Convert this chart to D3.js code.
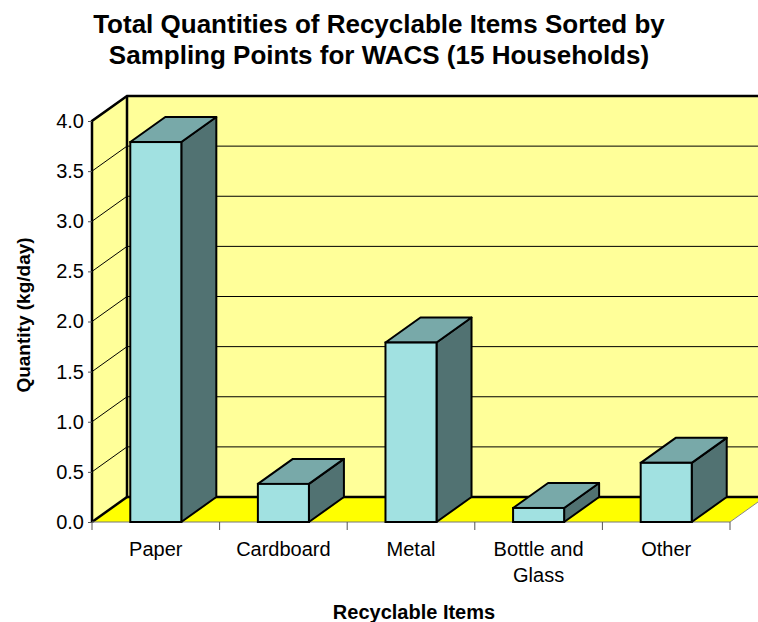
<!DOCTYPE html>
<html>
<head>
<meta charset="utf-8">
<script src="https://cdn.jsdelivr.net/npm/d3@7"></script>
<style>
  body { margin: 0; background: #fff; }
  text { font-family: "Liberation Sans", Arial, sans-serif; }
</style>
</head>
<body>
<svg id="chart" width="758" height="622"></svg>
<script>
// chart data
var categories = ["Paper", "Cardboard", "Metal", "Bottle and Glass", "Other"];
var quantities = [3.79, 0.38, 1.79, 0.14, 0.59];
var yTicks = [0, 0.5, 1.0, 1.5, 2.0, 2.5, 3.0, 3.5, 4.0];
var titleLines = ["Total Quantities of Recyclable Items Sorted by",
                  "Sampling Points for WACS (15 Households)"];

var svg = d3.select("#chart");

// depth of the 3d box
var dx = 35, dy = -25;

var x = d3.scaleBand()
    .domain(categories)
    .range([92, 730])
    .paddingInner(0.6)
    .paddingOuter(0.3);

var y = d3.scaleLinear().domain([0, 4]).range([522, 121]);

function pts(arr) {
    return arr.map(function(p){ return p[0] + "," + p[1]; }).join(" ");
}

var x0 = x.range()[0], x1 = x.range()[1];
var yb = y(0), yt = y(4);

// back wall
svg.append("polygon")
   .attr("points", pts([[x0+dx, yt+dy], [x1+dx+40, yt+dy], [x1+dx+40, yb+dy], [x0+dx, yb+dy]]))
   .attr("fill", "#ffff99");

// left wall
svg.append("polygon")
   .attr("points", pts([[x0, yt], [x0+dx, yt+dy], [x0+dx, yb+dy], [x0, yb]]))
   .attr("fill", "#ffff99");

// gridlines on back and left walls
var grid = yTicks.filter(function(d){ return d > 0 && d < 4; });
svg.append("g").selectAll("line.bg")
   .data(grid).enter().append("line")
   .attr("x1", x0+dx).attr("x2", 758)
   .attr("y1", function(d){ return y(d)+dy; })
   .attr("y2", function(d){ return y(d)+dy; })
   .attr("stroke", "#000").attr("stroke-width", 1);
svg.append("g").selectAll("line.lg")
   .data(grid).enter().append("line")
   .attr("x1", x0).attr("x2", x0+dx)
   .attr("y1", function(d){ return y(d); })
   .attr("y2", function(d){ return y(d)+dy; })
   .attr("stroke", "#000").attr("stroke-width", 1);

// floor
svg.append("polygon")
   .attr("points", pts([[x0, yb], [x0+dx, yb+dy], [x1+dx, yb+dy], [x1, yb]]))
   .attr("fill", "#ffff00");
svg.append("line")
   .attr("x1", x1).attr("y1", yb).attr("x2", x1+dx).attr("y2", yb+dy)
   .attr("stroke", "#888").attr("stroke-width", 1);

// wall outlines
svg.append("polyline")
   .attr("points", pts([[x0, yb], [x0, yt], [x0+dx, yt+dy], [758, yt+dy]]))
   .attr("fill", "none").attr("stroke", "#000").attr("stroke-width", 2.5);
svg.append("polyline")
   .attr("points", pts([[x0+dx, yt+dy], [x0+dx, yb+dy], [758, yb+dy]]))
   .attr("fill", "none").attr("stroke", "#000").attr("stroke-width", 2.5);
svg.append("line")
   .attr("x1", x0).attr("y1", yb).attr("x2", x0+dx).attr("y2", yb+dy)
   .attr("stroke", "#000").attr("stroke-width", 2.5);

// axes
var yAxis = d3.axisLeft(y).tickValues(yTicks).tickSize(4).tickPadding(4)
    .tickFormat(d3.format(".1f"));
var gy = svg.append("g").attr("transform", "translate(" + x0 + ",0)").call(yAxis);
gy.select(".domain").remove();
gy.selectAll(".tick line").attr("stroke", "#555");
gy.selectAll(".tick text").attr("font-size", 20).attr("fill", "#000")
  .attr("font-family", "Liberation Sans, Arial, sans-serif");

svg.append("line")
   .attr("x1", x0).attr("x2", x1).attr("y1", yb).attr("y2", yb)
   .attr("stroke", "#777").attr("stroke-width", 1);
var step = x.step();
svg.append("g").selectAll("line")
   .data(d3.range(categories.length + 1)).enter().append("line")
   .attr("x1", function(i){ return x0 + i*step; })
   .attr("x2", function(i){ return x0 + i*step; })
   .attr("y1", yb).attr("y2", yb + 8)
   .attr("stroke", "#555");

// bars
var bw = x.bandwidth();
var bars = svg.append("g").selectAll("g")
   .data(categories).enter().append("g");

bars.each(function(c, i){
    var g = d3.select(this);
    var l = x(c), r = l + bw, top = y(quantities[i]), bot = y(0);
    // side
    g.append("polygon")
     .attr("points", pts([[r, top], [r+dx, top+dy], [r+dx, bot+dy], [r, bot]]))
     .attr("fill", "#517272").attr("stroke", "#000").attr("stroke-width", 2)
     .attr("stroke-linejoin", "round");
    // top
    g.append("polygon")
     .attr("points", pts([[l, top], [l+dx, top+dy], [r+dx, top+dy], [r, top]]))
     .attr("fill", "#78a9a9").attr("stroke", "#000").attr("stroke-width", 2)
     .attr("stroke-linejoin", "round");
    // front
    g.append("rect")
     .attr("x", l).attr("y", top).attr("width", bw).attr("height", bot - top)
     .attr("fill", "#a1e1e1").attr("stroke", "#000").attr("stroke-width", 2);
});

// category labels
var labels = svg.append("g").selectAll("text")
   .data(categories).enter().append("text")
   .attr("x", function(c){ return x(c) + bw/2; })
   .attr("y", 556)
   .attr("text-anchor", "middle")
   .attr("font-size", 20);
labels.each(function(c){
    var t = d3.select(this);
    var words = c === "Bottle and Glass" ? ["Bottle and", "Glass"] : [c];
    words.forEach(function(w, k){
        t.append("tspan").attr("x", t.attr("x")).attr("dy", k === 0 ? 0 : 26).text(w);
    });
});

// titles
svg.append("g").selectAll("text")
   .data(titleLines).enter().append("text")
   .attr("x", 379).attr("y", function(d, i){ return 33 + i*31; })
   .attr("text-anchor", "middle")
   .attr("font-size", 26).attr("font-weight", "bold")
   .text(function(d){ return d; });

svg.append("text")
   .attr("x", 414).attr("y", 619)
   .attr("text-anchor", "middle")
   .attr("font-size", 20).attr("font-weight", "bold")
   .text("Recyclable Items");

svg.append("text")
   .attr("transform", "translate(30,315) rotate(-90)")
   .attr("text-anchor", "middle")
   .attr("font-size", 19).attr("font-weight", "bold")
   .text("Quantity (kg/day)");
</script>
</body>
</html>
